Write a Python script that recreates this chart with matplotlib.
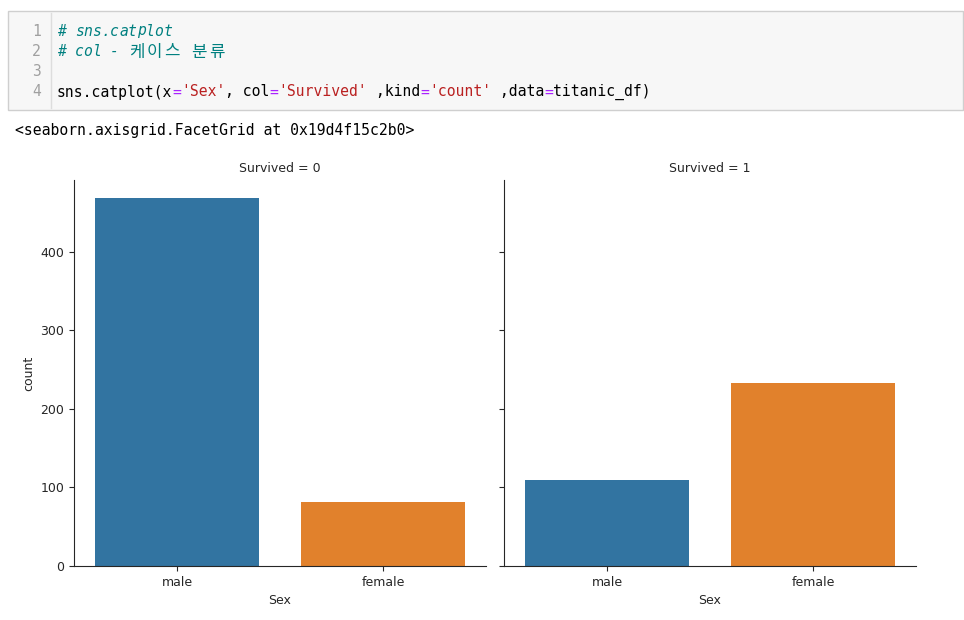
import matplotlib.pyplot as plt
from matplotlib.patches import Rectangle

# data: titanic counts by sex, split by Survived
sexes = ["male", "female"]
survived_vals = [0, 1]
counts_died = [468, 81]
counts_survived = [109, 233]
bar_colors = ["#3274a1", "#e1812c"]

W, H = 964, 620
fig = plt.figure(figsize=(W / 100, H / 100), dpi=100)

# full-figure axes in pixel coordinates for the notebook cell
bg = fig.add_axes([0, 0, 1, 1])
bg.set_xlim(0, W)
bg.set_ylim(H, 0)
bg.axis("off")

bg.add_patch(Rectangle((8, 11), W - 9, 99, facecolor="#f7f7f7",
                       edgecolor="#cfcfcf", linewidth=1))
bg.plot([51, 51], [13, 108], color="#dddddd", linewidth=1)

mono = ["DejaVu Sans Mono", "Noto Sans CJK KR"]
fs = 10.6
cw = 0.602 * fs * 100 / 72
x0 = 57
line_y = [31, 51, 71, 92]
for i, y in enumerate(line_y):
    bg.text(41, y, str(i + 1), ha="right", va="center", color="#a0a0a0",
            family=mono, fontsize=fs)


def put_mono(x, y, s, color, style="normal"):
    # one cell per ASCII char, two cells for wide (Korean) chars
    for ch in s:
        wide = ord(ch) > 0x2E80
        if ch != " ":
            if wide:
                bg.text(x + cw, y + 1, ch, color=color, ha="center", va="center",
                        family=mono, fontsize=fs + 1.5)
            else:
                bg.text(x, y, ch, color=color, style=style, va="center",
                        family=mono, fontsize=fs)
        x += 2 * cw if wide else cw
    return x


comment = "#008080"
put_mono(x0, line_y[0], "# sns.catplot", comment, "italic")
put_mono(x0, line_y[1], "# col - 케이스 분류", comment, "italic")

tokens = [("sns.catplot(x", "black"), ("=", "#aa22ff"), ("'Sex'", "#ba2121"),
          (", col", "black"), ("=", "#aa22ff"), ("'Survived'", "#ba2121"),
          (" ,kind", "black"), ("=", "#aa22ff"), ("'count'", "#ba2121"),
          (" ,data", "black"), ("=", "#aa22ff"), ("titanic_df)", "black")]
x = x0
for s, c in tokens:
    bg.text(x, line_y[3], s, color=c, va="center", family=mono, fontsize=fs)
    x += len(s) * cw

bg.text(15, 130, "<seaborn.axisgrid.FacetGrid at 0x19d4f15c2b0>", color="black",
        va="center", family=mono, fontsize=fs)

# facet panels
ax_w = 412 / W
ax_h = 386 / H
bottom = 1 - 566 / H
ax1 = fig.add_axes([74 / W, bottom, ax_w, ax_h])
ax2 = fig.add_axes([504 / W, bottom, ax_w, ax_h], sharey=ax1)

txt = "#262626"
for ax, vals, sv in zip([ax1, ax2], [counts_died, counts_survived], survived_vals):
    ax.bar(sexes, vals, width=0.8, color=bar_colors)
    ax.set_xlim(-0.5, 1.5)
    ax.set_title(f"Survived = {sv}", fontsize=9, color=txt)
    ax.set_xlabel("Sex", fontsize=9, color=txt)
    ax.spines["top"].set_visible(False)
    ax.spines["right"].set_visible(False)
    for side in ["left", "bottom"]:
        ax.spines[side].set_color(txt)
    ax.tick_params(labelsize=9, colors=txt)

ax1.set_ylim(0, max(counts_died + counts_survived) * 1.05)
ax1.set_yticks([0, 100, 200, 300, 400])
ax1.set_ylabel("count", fontsize=9, color=txt)
ax2.tick_params(labelleft=False)

fig.savefig("out.png", dpi=100)
